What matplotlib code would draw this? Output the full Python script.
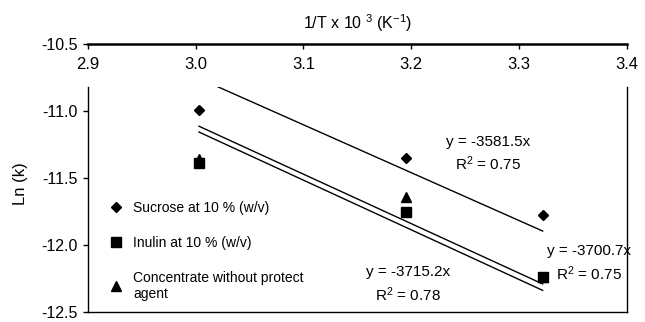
import matplotlib
matplotlib.use("Agg")
import matplotlib.pyplot as plt
from matplotlib.patches import Rectangle
from matplotlib.lines import Line2D
import numpy as np

plt.rcParams['font.family'] = ['Liberation Sans', 'DejaVu Sans']
plt.rcParams['mathtext.fontset'] = 'custom'
plt.rcParams['mathtext.rm'] = 'Liberation Sans'
plt.rcParams['mathtext.it'] = 'Liberation Sans:italic'
plt.rcParams['mathtext.bf'] = 'Liberation Sans:bold'
plt.rcParams['axes.unicode_minus'] = False

# 1/T x 10^3 (K^-1) for the three storage temperatures
inv_temp = [3.003, 3.195, 3.322]

# Ln(k) for each formulation
sucrose = [-10.99, -11.35, -11.775]
inulin = [-11.39, -11.752, -12.245]
concentrate = [-11.36, -11.644, -12.24]

series_names = ["Sucrose at 10 % (w/v)", "Inulin at 10 % (w/v)",
                "Concentrate without protect\nagent"]

# Trendlines through the origin (y = slope * 1/T)
slope_sucrose = -3581.5
slope_inulin = -3715.2
slope_concentrate = -3700.7
r2_sucrose = 0.75
r2_inulin = 0.78
r2_concentrate = 0.75

x_ticks = [2.9, 3.0, 3.1, 3.2, 3.3, 3.4]
x_tick_labels = ["2.9", "3.0", "3.1", "3.2", "3.3", "3.4"]
y_ticks = [-10.5, -11.0, -11.5, -12.0, -12.5]
y_tick_labels = ["-10.5", "-11.0", "-11.5", "-12.0", "-12.5"]

PLOT_TOP = -10.82  # upper edge of the plotting area below the top axis

W, H = 645, 322
fig = plt.figure(figsize=(W / 100, H / 100), dpi=100)
ax = fig.add_axes([88 / W, 1 - 311.5 / H, 538.7 / W, 267.2 / H])
ax.set_xlim(2.9, 3.4)
ax.set_ylim(-12.5, -10.5)

# trendlines, clipped to the plotting area
clip = Rectangle((2.9, -12.5), 0.5, PLOT_TOP + 12.5, transform=ax.transData)
xs = np.array([inv_temp[0], inv_temp[-1]])
for slope in (slope_sucrose, slope_inulin, slope_concentrate):
    line, = ax.plot(xs, slope / 1000.0 * xs, color="black", lw=1.0, zorder=2)
    line.set_clip_path(clip)

# data points
ax.plot(inv_temp, concentrate, linestyle="none", marker="^", ms=7.2,
        color="black", zorder=3)
ax.plot(inv_temp, inulin, linestyle="none", marker="s", ms=6.8,
        color="black", zorder=4)
ax.plot(inv_temp, sucrose, linestyle="none", marker="D", ms=5.0,
        color="black", zorder=5)

# spines
for side in ("left", "right"):
    ax.spines[side].set_bounds(-12.5, PLOT_TOP)
    ax.spines[side].set_linewidth(1.0)
ax.spines["bottom"].set_linewidth(1.0)
ax.spines["top"].set_linewidth(1.8)

# top x axis with labels underneath the axis line
ax.xaxis.tick_top()
ax.set_xticks(x_ticks)
ax.set_xticklabels(x_tick_labels)
ax.tick_params(axis="x", direction="in", length=3.6, width=1.0, pad=-20,
               labelsize=12)
ax.set_yticks(y_ticks)
ax.set_yticklabels(y_tick_labels)
ax.tick_params(axis="y", direction="out", length=3.6, width=1.0, pad=4,
               labelsize=11.5)

fig.text(358 / W, 1 - 23 / H, r"1/T x 10 $^{3}$ (K$^{-1}$)", ha="center",
         va="center", fontsize=11.5)
fig.text(21 / W, 1 - 184 / H, "Ln (k)", rotation=90, ha="center",
         va="center", fontsize=12)

# trendline equations
def eq(slope):
    return f"y = {slope:.1f}x"

def r2(val):
    return r"R$^{2}$" + f" = {val:.2f}"

ax.text(3.271, -11.228, eq(slope_sucrose), ha="center", va="center", fontsize=11)
ax.text(3.271, -11.39, r2(r2_sucrose), ha="center", va="center", fontsize=11)
ax.text(3.365, -12.047, eq(slope_concentrate), ha="center", va="center", fontsize=11)
ax.text(3.365, -12.217, r2(r2_concentrate), ha="center", va="center", fontsize=11)
ax.text(3.197, -12.203, eq(slope_inulin), ha="center", va="center", fontsize=11)
ax.text(3.197, -12.372, r2(r2_inulin), ha="center", va="center", fontsize=11)

# legend
handles = [
    Line2D([], [], linestyle="none", marker="D", ms=5.0, color="black"),
    Line2D([], [], linestyle="none", marker="s", ms=6.8, color="black"),
    Line2D([], [], linestyle="none", marker="^", ms=7.2, color="black"),
]
fig.legend(handles, series_names, loc="upper left",
           bbox_to_anchor=(109 / W, 1 - 201 / H), frameon=False, fontsize=10,
           handlelength=1.0, handletextpad=0.72, labelspacing=1.5,
           borderpad=0, borderaxespad=0, numpoints=1)

fig.savefig("out.png", dpi=100)
